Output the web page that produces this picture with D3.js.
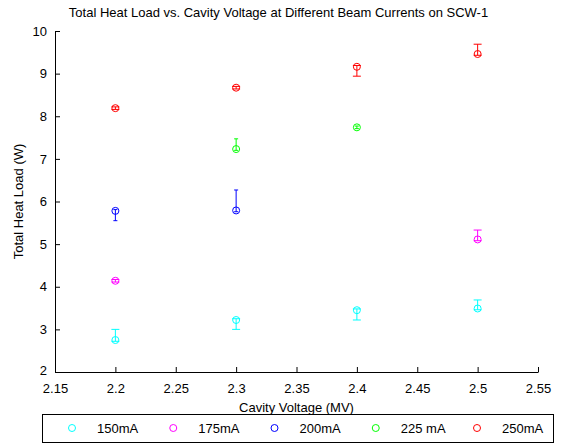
<!DOCTYPE html>
<html>
<head>
<meta charset="utf-8">
<script src="https://cdn.jsdelivr.net/npm/d3@7"></script>
<style>
body { margin: 0; background: #fff; }
text { font-family: "Liberation Sans", Arial, sans-serif; fill: #000; }
</style>
</head>
<body>
<div id="chart"></div>
<script>
// beam currents (legend labels) and colours
var seriesNames = ["150mA", "175mA", "200mA", "225 mA", "250mA"];
var seriesColors = ["#00ffff", "#ff00ff", "#0000ff", "#00ff00", "#ff0000"];
// cavity voltage (MV) of each point, per series
var voltages = [
  [2.2, 2.3, 2.4, 2.5],
  [2.2, 2.5],
  [2.2, 2.3],
  [2.3, 2.4],
  [2.2, 2.3, 2.4, 2.5]
];
// total heat load (W)
var heatLoads = [
  [2.75, 3.22, 3.45, 3.49],
  [4.14, 5.11],
  [5.78, 5.79],
  [7.23, 7.74],
  [8.19, 8.67, 9.16, 9.46]
];
// error bar extents below / above the point
var errLower = [
  [0.03, 0.22, 0.23, 0.03],
  [0.03, 0.03],
  [0.23, 0.03],
  [0.03, 0.03],
  [0.03, 0.03, 0.22, 0.03]
];
var errUpper = [
  [0.25, 0.03, 0.03, 0.20],
  [0.03, 0.22],
  [0.03, 0.48],
  [0.24, 0.03],
  [0.03, 0.03, 0.03, 0.23]
];
var xTicks = [2.15, 2.2, 2.25, 2.3, 2.35, 2.4, 2.45, 2.5, 2.55];
var yTicks = [2, 3, 4, 5, 6, 7, 8, 9, 10];

var W = 561, H = 445;
// plot box (can't use "top" as a global name)
var pLeft = 55, pRight = 538, pTop = 31, pBottom = 372;

var svg = d3.select("#chart").append("svg")
  .attr("width", W).attr("height", H);

var x = d3.scaleLinear().domain([2.15, 2.55]).range([pLeft, pRight]);
var y = d3.scaleLinear().domain([2, 10]).range([pBottom, pTop]);

// axes, ticks pointing inward like matlab
var xAxis = d3.axisBottom(x).tickValues(xTicks).tickSizeInner(-5).tickSizeOuter(0)
  .tickPadding(12).tickFormat(d3.format("~g"));
var yAxis = d3.axisLeft(y).tickValues(yTicks).tickSizeInner(-5).tickSizeOuter(0)
  .tickPadding(8).tickFormat(d3.format("~g"));

var gx = svg.append("g").attr("transform", "translate(0," + pBottom + ")").call(xAxis);
var gy = svg.append("g").attr("transform", "translate(" + pLeft + ",0)").call(yAxis);
[gx, gy].forEach(function(g) {
  g.select(".domain").attr("stroke", "#000").attr("stroke-width", 1);
  g.selectAll(".tick line").attr("stroke", "#000");
  g.selectAll(".tick text").style("font-size", "13px").attr("fill", "#000");
});
gy.selectAll(".tick text").filter(function(d) { return d == 2; }).attr("dy", "0.2em");

// error bars + circles
for (var s = 0; s < seriesNames.length; s++) {
  var pts = voltages[s].map(function(v, i) {
    return {x: v, y: heatLoads[s][i], lo: errLower[s][i], hi: errUpper[s][i]};
  });
  // cap width scales with the series' x extent (matlab errorbar does this)
  var ext = d3.extent(voltages[s]);
  var capHalf = Math.max(2, (x(ext[1]) - x(ext[0])) * 0.011);
  var g = svg.append("g").attr("stroke", seriesColors[s]).attr("fill", "none");
  pts.forEach(function(p) {
    var cx = x(p.x), y0 = y(p.y - p.lo), y1 = y(p.y + p.hi);
    g.append("line").attr("x1", cx).attr("x2", cx).attr("y1", y0).attr("y2", y1);
    g.append("line").attr("x1", cx - capHalf).attr("x2", cx + capHalf).attr("y1", y0).attr("y2", y0);
    g.append("line").attr("x1", cx - capHalf).attr("x2", cx + capHalf).attr("y1", y1).attr("y2", y1);
  });
  g.selectAll("circle").data(pts).enter().append("circle")
    .attr("cx", function(d) { return x(d.x); })
    .attr("cy", function(d) { return y(d.y); })
    .attr("r", 3.5);
}

// title and axis labels
svg.append("text").attr("x", (pLeft + pRight) / 2 - 18).attr("y", 17)
  .attr("text-anchor", "middle").style("font-size", "13px")
  .text("Total Heat Load vs. Cavity Voltage at Different Beam Currents on SCW-1");
svg.append("text").attr("x", (pLeft + pRight) / 2).attr("y", 412)
  .attr("text-anchor", "middle").style("font-size", "13px")
  .text("Cavity Voltage (MV)");
svg.append("text").attr("transform", "translate(23," + (pTop + pBottom) / 2 + ") rotate(-90)")
  .attr("text-anchor", "middle").style("font-size", "13px")
  .text("Total Heat Load (W)");

// legend
var lgLeft = 42, lgRight = 553, lgTop = 414, lgBottom = 442;
svg.append("rect").attr("x", lgLeft + 0.5).attr("y", lgTop + 0.5)
  .attr("width", lgRight - lgLeft).attr("height", lgBottom - lgTop)
  .attr("fill", "#fff").attr("stroke", "#000");
var lx = d3.scalePoint().domain(seriesNames).range([72, 477]);
var items = svg.selectAll("g.lg").data(seriesNames).enter().append("g").attr("class", "lg");
items.append("circle")
  .attr("cx", function(d) { return lx(d); })
  .attr("cy", (lgTop + lgBottom) / 2)
  .attr("r", 3.5).attr("fill", "none")
  .attr("stroke", function(d, i) { return seriesColors[i]; });
items.append("text")
  .attr("x", function(d) { return lx(d) + 25; })
  .attr("y", (lgTop + lgBottom) / 2 + 5)
  .style("font-size", "13px")
  .text(function(d) { return d; });
</script>
</body>
</html>
